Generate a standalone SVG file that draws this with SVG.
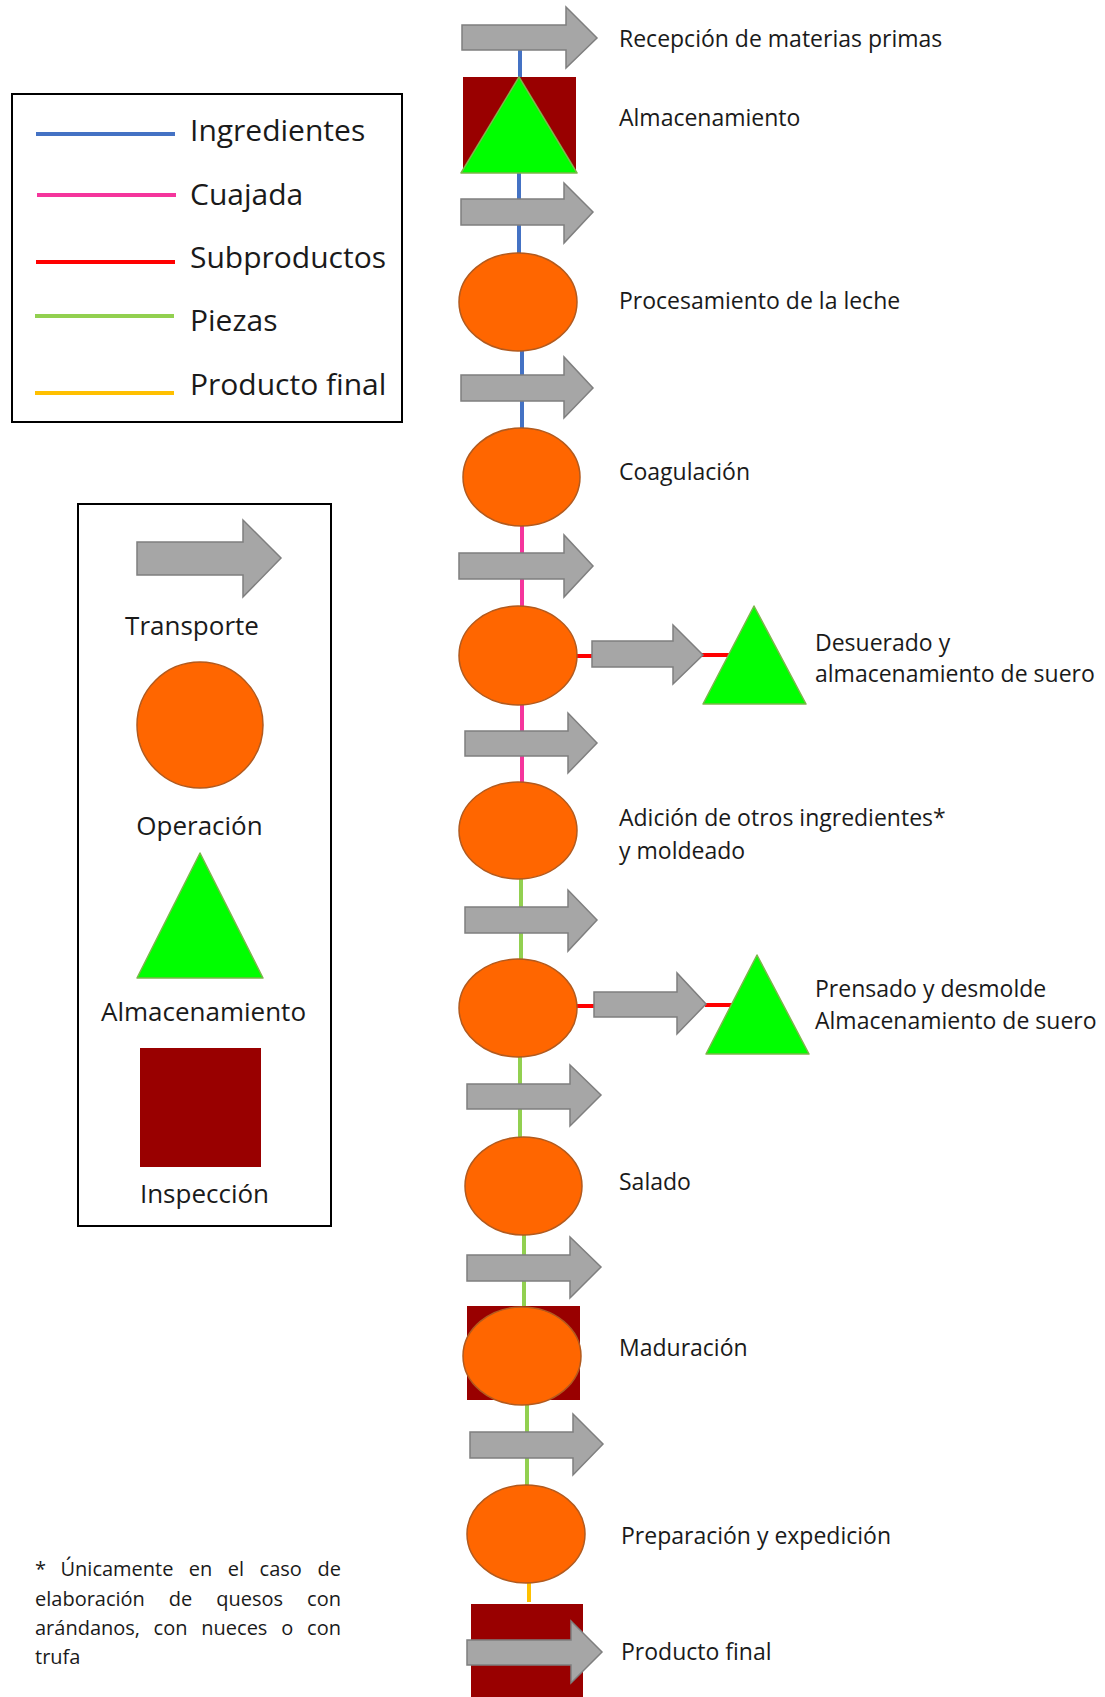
<svg xmlns="http://www.w3.org/2000/svg" width="1105" height="1697" viewBox="0 0 1105 1697">
  <style>
    .txt { font-family: "Open Sans", "Noto Sans", "DejaVu Sans", sans-serif; fill: #1a1a1a; }
    .lbl { font-size: 23px; }
    .key { font-size: 30px; }
    .sym { font-size: 26px; text-anchor: middle; }
    .note { font-size: 20px; }
    .end { text-anchor: end; }
    .transport { fill: #a6a6a6; stroke: #7f7f7f; stroke-width: 1.5; stroke-linejoin: miter; }
    .operation { fill: #ff6600; stroke: #b25a1e; stroke-width: 1.5; }
    .storage { fill: #00ff00; stroke: #7cb64a; stroke-width: 1.5; stroke-linejoin: round; }
    .inspection { fill: #990000; }
    .frame { fill: #ffffff; stroke: #000000; stroke-width: 2; }
    .flow { fill: none; stroke-width: 4; }
    .ing { stroke: #4472c4; }
    .cur { stroke: #f5359c; }
    .sub { stroke: #ff0000; }
    .pie { stroke: #92d050; }
    .fin { stroke: #ffc000; }
  </style>

  <rect width="1105" height="1697" fill="#ffffff"/>

  <!-- flow connectors between process steps -->
  <g id="connectors">
    <line class="flow ing" x1="520" y1="50" x2="520" y2="78"/>
    <line class="flow ing" x1="519" y1="172" x2="519" y2="254"/>
    <line class="flow ing" x1="522" y1="351" x2="522" y2="429"/>
    <line class="flow cur" x1="522" y1="525" x2="522" y2="607"/>
    <line class="flow cur" x1="522" y1="704" x2="522" y2="783"/>
    <line class="flow sub" x1="576" y1="656" x2="593" y2="656"/>
    <line class="flow sub" x1="702" y1="655" x2="731" y2="655"/>
    <line class="flow pie" x1="521" y1="878" x2="521" y2="960"/>
    <line class="flow sub" x1="576" y1="1006" x2="595" y2="1006"/>
    <line class="flow sub" x1="705" y1="1005" x2="735" y2="1005"/>
    <line class="flow pie" x1="520" y1="1056" x2="520" y2="1138"/>
    <line class="flow pie" x1="524" y1="1234" x2="524" y2="1307"/>
    <line class="flow pie" x1="527" y1="1404" x2="527" y2="1486"/>
    <line class="flow fin" x1="529" y1="1582" x2="529" y2="1602"/>
  </g>

  <!-- process column -->
  <g id="recepcion">
    <path class="transport" d="M462,25 L566,25 L566,7 L597,38 L566,68 L566,50 L462,50 Z"/>
    <text class="txt lbl" x="619" y="47">Recepción de materias primas</text>
  </g>
  <g id="almacenamiento">
    <rect class="inspection" x="463" y="77" width="113" height="96"/>
    <path class="storage" d="M519,77 L577,173 L461,173 Z"/>
    <text class="txt lbl" x="619" y="126">Almacenamiento</text>
  </g>
  <g id="transporte-2">
    <path class="transport" d="M461,199 L564,199 L564,183 L593,212 L564,243 L564,225 L461,225 Z"/>
  </g>
  <g id="procesamiento">
    <ellipse class="operation" cx="518" cy="302" rx="59" ry="49"/>
    <text class="txt lbl" x="619" y="309">Procesamiento de la leche</text>
  </g>
  <g id="transporte-3">
    <path class="transport" d="M461,375 L564,375 L564,357 L593,388 L564,418 L564,401 L461,401 Z"/>
  </g>
  <g id="coagulacion">
    <ellipse class="operation" cx="521.5" cy="477" rx="58.5" ry="49"/>
    <text class="txt lbl" x="619" y="480">Coagulación</text>
  </g>
  <g id="transporte-4">
    <path class="transport" d="M459,553 L564,553 L564,535 L593,566 L564,597 L564,579 L459,579 Z"/>
  </g>
  <g id="desuerado">
    <ellipse class="operation" cx="518" cy="655.5" rx="59" ry="49.5"/>
    <path class="transport" d="M592,641 L673,641 L673,625 L703,655 L673,684 L673,667 L592,667 Z"/>
    <path class="storage" d="M754,606 L806,704 L703,704 Z"/>
    <text class="txt lbl" x="815" y="651">Desuerado y</text>
    <text class="txt lbl" x="815" y="682">almacenamiento de suero</text>
  </g>
  <g id="transporte-5">
    <path class="transport" d="M465,731 L568,731 L568,713 L597,743 L568,773 L568,756 L465,756 Z"/>
  </g>
  <g id="adicion">
    <ellipse class="operation" cx="518" cy="830.5" rx="59" ry="48.5"/>
    <text class="txt lbl" x="619" y="826">Adición de otros ingredientes*</text>
    <text class="txt lbl" x="619" y="859">y moldeado</text>
  </g>
  <g id="transporte-6">
    <path class="transport" d="M465,907 L568,907 L568,890 L597,920 L568,951 L568,933 L465,933 Z"/>
  </g>
  <g id="prensado">
    <ellipse class="operation" cx="518" cy="1008" rx="59" ry="49"/>
    <path class="transport" d="M594,992 L677,992 L677,973 L706,1004 L677,1034 L677,1017 L594,1017 Z"/>
    <path class="storage" d="M757,955 L809,1054 L706,1054 Z"/>
    <text class="txt lbl" x="815" y="997">Prensado y desmolde</text>
    <text class="txt lbl" x="815" y="1029">Almacenamiento de suero</text>
  </g>
  <g id="transporte-7">
    <path class="transport" d="M467,1084 L570,1084 L570,1065 L601,1095 L570,1126 L570,1109 L467,1109 Z"/>
  </g>
  <g id="salado">
    <ellipse class="operation" cx="523.5" cy="1186" rx="58.5" ry="49"/>
    <text class="txt lbl" x="619" y="1190">Salado</text>
  </g>
  <g id="transporte-8">
    <path class="transport" d="M467,1255 L570,1255 L570,1237 L601,1267 L570,1298 L570,1281 L467,1281 Z"/>
  </g>
  <g id="maduracion">
    <rect class="inspection" x="467" y="1306" width="113" height="94"/>
    <ellipse class="operation" cx="522" cy="1356" rx="59" ry="49"/>
    <text class="txt lbl" x="619" y="1356">Maduración</text>
  </g>
  <g id="transporte-9">
    <path class="transport" d="M470,1432 L573,1432 L573,1414 L603,1444 L573,1475 L573,1458 L470,1458 Z"/>
  </g>
  <g id="preparacion">
    <ellipse class="operation" cx="526" cy="1534" rx="59" ry="49"/>
    <text class="txt lbl" x="621" y="1544">Preparación y expedición</text>
  </g>
  <g id="producto-final">
    <rect class="inspection" x="471" y="1604" width="112" height="93"/>
    <path class="transport" d="M467,1640 L571,1640 L571,1621 L602,1652 L571,1683 L571,1665 L467,1665 Z"/>
    <text class="txt lbl" x="621" y="1660">Producto final</text>
  </g>

  <!-- key of line colours -->
  <g id="leyenda-flujos">
    <rect class="frame" x="12" y="94" width="390" height="328"/>
    <line class="flow ing" x1="36" y1="134" x2="175" y2="134"/>
    <line class="flow cur" x1="37" y1="195" x2="176" y2="195"/>
    <line class="flow sub" x1="36" y1="262" x2="175" y2="262"/>
    <line class="flow pie" x1="35" y1="316" x2="174" y2="316"/>
    <line class="flow fin" x1="35" y1="393" x2="174" y2="393"/>
    <text class="txt key" x="190" y="141">Ingredientes</text>
    <text class="txt key" x="190" y="205">Cuajada</text>
    <text class="txt key" x="190" y="268">Subproductos</text>
    <text class="txt key" x="190" y="331">Piezas</text>
    <text class="txt key" x="190" y="395">Producto final</text>
  </g>

  <!-- key of symbols -->
  <g id="leyenda-simbolos">
    <rect class="frame" x="78" y="504" width="253" height="722"/>
    <path class="transport" d="M137,542 L243,542 L243,520 L281,558 L243,597 L243,575 L137,575 Z"/>
    <text class="txt sym" x="192" y="635">Transporte</text>
    <circle class="operation" cx="200" cy="725" r="63"/>
    <text class="txt sym" x="199.5" y="835">Operación</text>
    <path class="storage" d="M200,853 L263,978 L137,978 Z"/>
    <text class="txt sym" x="203.5" y="1021">Almacenamiento</text>
    <rect class="inspection" x="140" y="1048" width="121" height="119"/>
    <text class="txt sym" x="204.5" y="1203">Inspección</text>
  </g>

  <!-- footnote, justified word by word -->
  <g id="nota">
    <text class="txt note" x="35" y="1576">*</text>
    <text class="txt note" x="60.5" y="1576">Únicamente</text>
    <text class="txt note" x="188.8" y="1576">en</text>
    <text class="txt note" x="227.8" y="1576">el</text>
    <text class="txt note" x="259.6" y="1576">caso</text>
    <text class="txt note end" x="341" y="1576">de</text>
    <text class="txt note" x="35" y="1606">elaboración</text>
    <text class="txt note" x="168.8" y="1606">de</text>
    <text class="txt note" x="216.2" y="1606">quesos</text>
    <text class="txt note end" x="341" y="1606">con</text>
    <text class="txt note" x="35" y="1635">arándanos,</text>
    <text class="txt note" x="153.6" y="1635">con</text>
    <text class="txt note" x="201.3" y="1635">nueces</text>
    <text class="txt note" x="281.2" y="1635">o</text>
    <text class="txt note end" x="341" y="1635">con</text>
    <text class="txt note" x="35" y="1664">trufa</text>
  </g>
</svg>
